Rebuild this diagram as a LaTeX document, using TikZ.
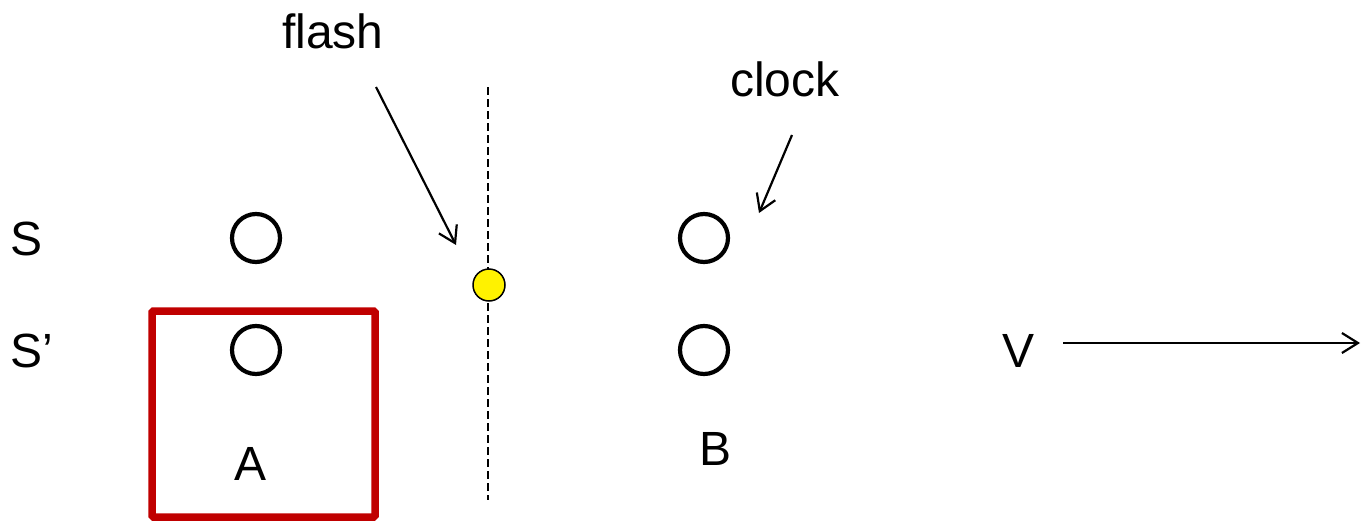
\documentclass[tikz,border=0pt]{standalone}
\usepackage{fontspec}
\setmainfont{Liberation Sans}
\usetikzlibrary{arrows.meta}
\begin{document}
\begin{tikzpicture}[x=1pt,y=-1pt,
  lbl/.style={inner sep=0pt, anchor=base, font=\fontsize{48}{58}\selectfont},
  clk/.style={circle, draw=black, line width=4.2pt, minimum size=48pt, inner sep=0pt},
  pointer/.style={line width=2.2pt, -{Straight Barb[length=16pt,width=20pt,line width=2.2pt]}}]
\useasboundingbox (0,0) rectangle (1361,522);
% red frame
\draw[line width=7.5pt, draw={rgb,255:red,192;green,0;blue,0}, rounded corners=1.5pt] (152,311) rectangle (375,517);
% dashed line
\coordinate (dtop) at (488,87);
\coordinate (dbot) at (488,500);
\draw[line width=2pt, dash pattern=on 8pt off 4pt] (dtop) -- (dbot);
% clocks
\node[clk] (sa) at (256,238) {};
\node[clk] (spa) at (256,350) {};
\node[clk] (sb) at (704,238) {};
\node[clk] (spb) at (704,350) {};
% flash
\node[circle, draw=black, line width=1.5pt, fill=yellow, minimum size=32pt, inner sep=0pt] (fl) at (489,285) {};
% labels
\node[lbl] (tflash) at (333,48) {flash};
\node[lbl] (tclock) at (785,96) {clock};
\node[lbl] (tS) at (27,255) {S};
\node[lbl] (tSp) at (32,367) {S’};
\node[lbl] (tA) at (251,480) {A};
\node[lbl] (tB) at (716,465) {B};
\node[lbl] (tV) at (1018,367) {V};
% pointers
\coordinate (fa1) at (376,87);
\coordinate (fa2) at (456,245);
\draw[pointer] (fa1) -- (fa2);
\coordinate (ca1) at (792,135);
\coordinate (ca2) at (759,213);
\draw[pointer] (ca1) -- (ca2);
\coordinate (va1) at (1063,343);
\coordinate (va2) at (1360,343);
\draw[pointer] (va1) -- (va2);
\end{tikzpicture}
\end{document}
